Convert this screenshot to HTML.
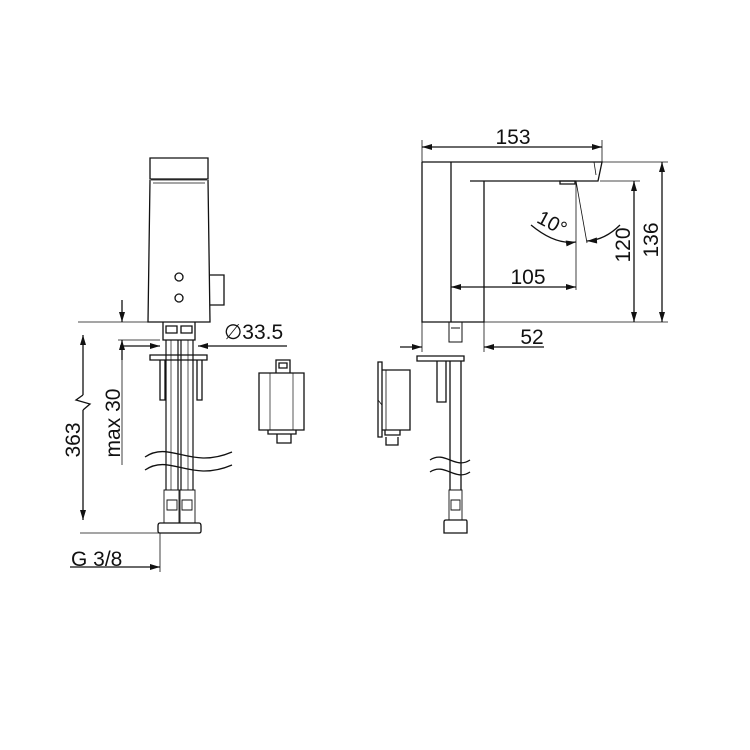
<!DOCTYPE html>
<html><head><meta charset="utf-8"><style>
html,body{margin:0;padding:0;background:#fff}
svg{display:block}
text{font-family:"Liberation Sans",sans-serif;fill:#111}
</style></head><body>
<svg width="750" height="750" viewBox="0 0 750 750" xmlns="http://www.w3.org/2000/svg">
<defs>
<marker id="a" viewBox="0 0 10 6" refX="10" refY="3" markerWidth="14" markerHeight="6" markerUnits="userSpaceOnUse" orient="auto"><path d="M0,0L10,3L0,6z" fill="#111"/></marker>
</defs>
<g fill="none" stroke="#111" stroke-width="1.3">
<!-- left faucet -->
<path d="M150,158H208V179H150Z"/>
<path d="M151,180H207M153,183H205" stroke-width="0.8"/>
<path d="M150,180L148,322H210L208,180"/>
<circle cx="179" cy="277" r="4"/><circle cx="179" cy="298" r="4"/>
<path d="M210,275H224V305H210"/>
<path d="M163,322V340H195V322M166,326H177V333H166ZM181,326H192V333H181Z"/>
<path d="M150,355H207V360H150Z"/>
<path d="M160,360V400H165V360M197,360V400H202V360"/>
<path d="M166,340V490M178,340V490M181,340V490M193,340V490" stroke-width="1.2"/>
<path d="M171,340V490M188,340V490" stroke-width="0.7"/>
<path d="M164,490H180V523H164ZM179,490H195V523H179ZM167,500H177V510H167ZM182,500H192V510H182Z" stroke-width="0.9"/>
<path d="M160,523H199Q201,523 201,526V531Q201,533 199,533H160Q158,533 158,531V526Q158,523 160,523Z"/>
<path d="M145,457C170,440 190,470 232,452M145,470C170,453 190,483 232,465"/>
<!-- left dims -->
<path d="M78,322H150M118,340H160M80,533H160M160,533V572" stroke-width="0.8"/>
<path d="M83,395V335" marker-end="url(#a)"/>
<path d="M83,410V520" marker-end="url(#a)"/>
<path d="M83,395L76,400L90,404L83,410"/>
<path d="M122,300V322" marker-end="url(#a)"/>
<path d="M122,360V340" marker-end="url(#a)"/>
<path d="M122,360V465" stroke-width="0.8"/>
<path d="M70,567H160" marker-end="url(#a)"/>
<path d="M120,346H160" marker-end="url(#a)"/>
<path d="M287,346H198" marker-end="url(#a)"/>
<!-- middle module -->
<path d="M276,373V360H290V373M279,363H287V368H279Z"/>
<path d="M259,373H304V430H259Z"/>
<path d="M270,373V430M293,373V430" stroke-width="0.7"/>
<path d="M268,430V434H296V430M277,434V443H291V434"/>
<!-- right module -->
<path d="M378,362H382V437H378ZM382,370H410V430H382Z"/>
<path d="M386,370V430M378,400L382,405" stroke-width="0.8"/>
<path d="M385,430V435H400V430M386,437V445H398V437"/>
<!-- right faucet -->
<path d="M422,162H602L598,181H470M484,181V322H422V162M451,162V322"/>
<path d="M594,162L596,175" stroke-width="0.8"/>
<path d="M560,181H575V184H560Z"/>
<path d="M449,322V342H462V322M451,328H460" stroke-width="1"/>
<path d="M417,356H464V361H417Z"/>
<path d="M437,361V402H446V361M450,361V490M461,361V490" />
<path d="M449,490H462V520H449ZM451,500H460V510H451Z" stroke-width="0.9"/>
<path d="M446,520H466Q467,520 467,522V533H444V522Q444,520 446,520Z"/>
<path d="M430,460C445,450 455,470 470,460M430,472C445,462 455,482 470,472"/>
<!-- right dims -->
<path d="M422,162V140M602,162V140M602,162H668M600,181H640M484,322H668M576,181V290M576,181L587,243M422,322V352M484,322V352" stroke-width="0.8"/>
<path d="M512,147H422" marker-end="url(#a)"/><path d="M512,147H602" marker-end="url(#a)"/>
<path d="M662,240V162" marker-end="url(#a)"/><path d="M662,240V322" marker-end="url(#a)"/>
<path d="M634,250V181" marker-end="url(#a)"/><path d="M634,250V322" marker-end="url(#a)"/>
<path d="M514,287H451" marker-end="url(#a)"/><path d="M514,287H576" marker-end="url(#a)"/>
<path d="M400,347H422" marker-end="url(#a)"/>
<path d="M544,347H484" marker-end="url(#a)"/>
<path d="M531,225Q555,245 576,242" marker-end="url(#a)"/>
<path d="M620,225Q605,240 587,241" marker-end="url(#a)"/>
</g>
<text x="224" y="339" font-size="21">∅33.5</text>
<text x="513" y="144" font-size="21" text-anchor="middle">153</text>
<text x="528" y="284" font-size="21" text-anchor="middle">105</text>
<text x="532" y="344" font-size="21" text-anchor="middle">52</text>
<text x="71" y="566" font-size="21">G 3/8</text>
<text transform="translate(630,245) rotate(-90)" font-size="21" text-anchor="middle">120</text>
<text transform="translate(658,240) rotate(-90)" font-size="21" text-anchor="middle">136</text>
<text transform="translate(80,440) rotate(-90)" font-size="21" text-anchor="middle">363</text>
<text transform="translate(120,423) rotate(-90)" font-size="21" text-anchor="middle">max  30</text>
<text transform="translate(549,229) rotate(28)" font-size="20" text-anchor="middle">10°</text>
</svg>
</body></html>
